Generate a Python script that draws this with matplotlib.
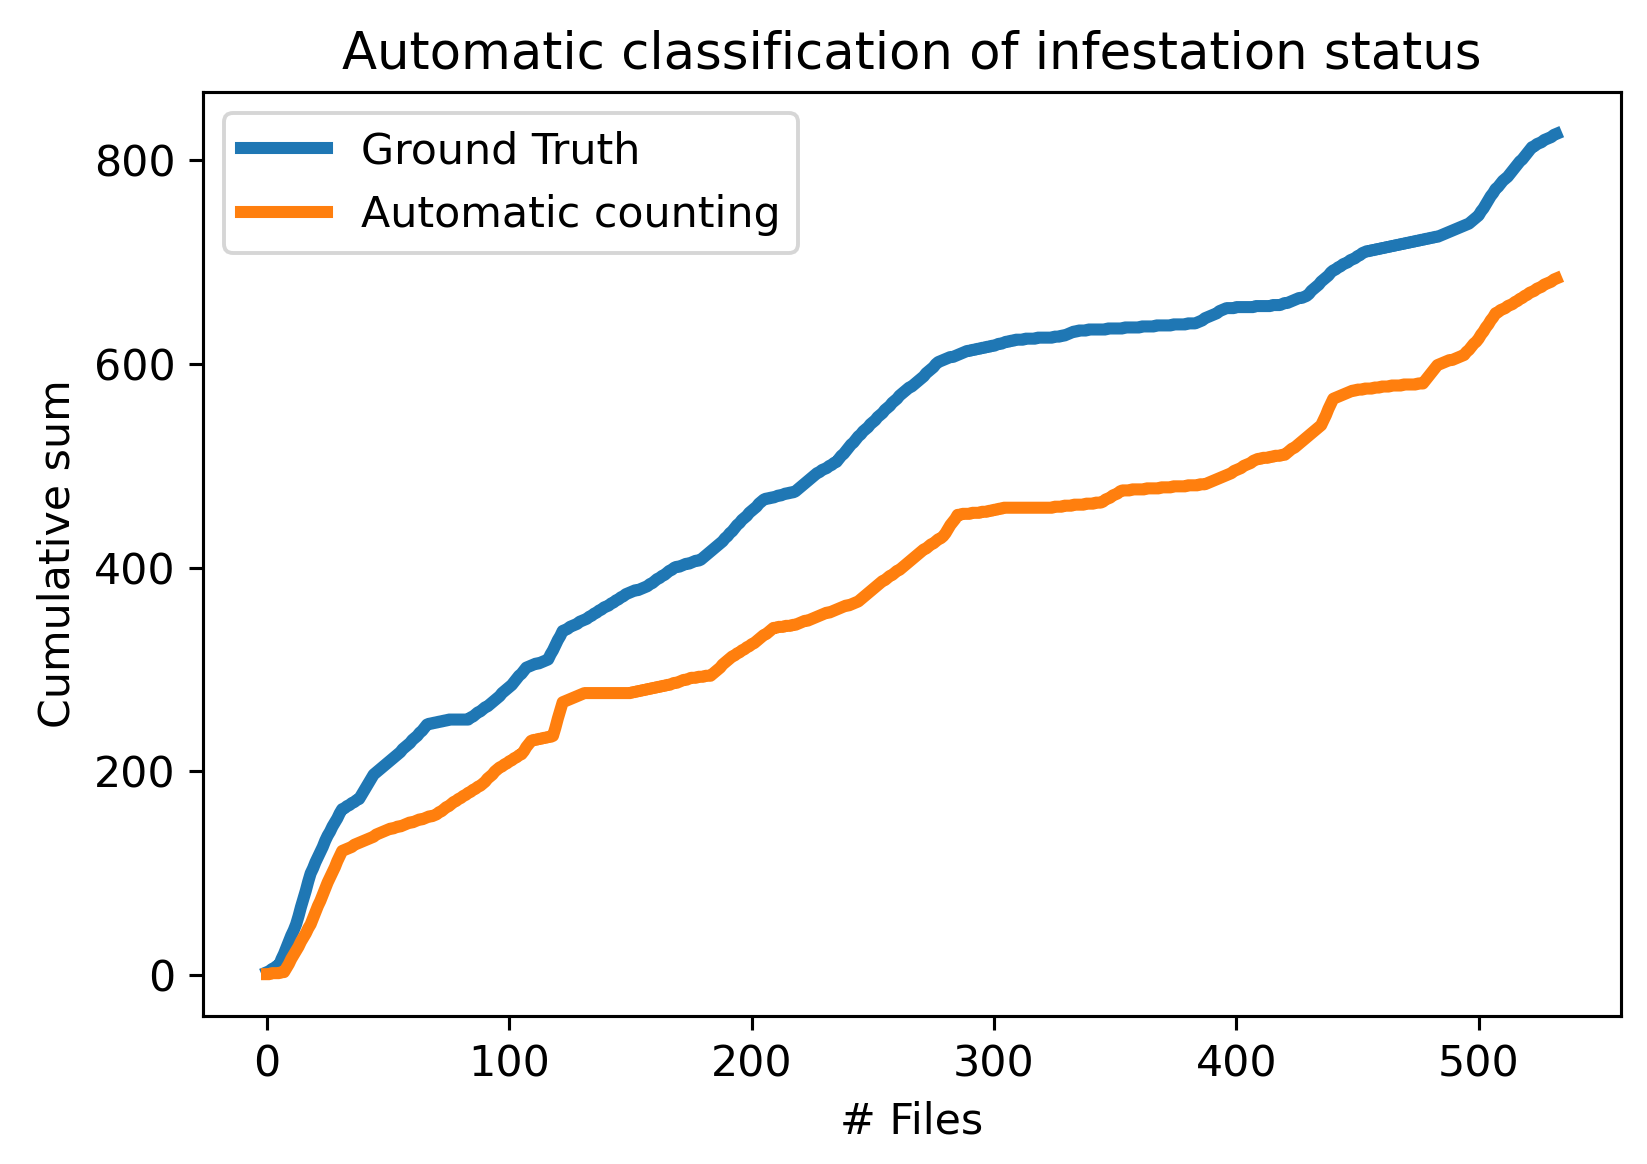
import numpy as np
import matplotlib.pyplot as plt

# values (file index, cumulative sum)
gt_x = [0, 5, 12, 18, 25, 31, 38, 44, 53, 62, 66, 75, 83, 92, 101, 107, 116, 122,
        131, 140, 149, 157, 168, 179, 188, 196, 205, 218, 227, 235, 244, 253, 262,
        270, 277, 288, 301, 309, 327, 335, 357, 383, 396, 418, 429, 440, 453, 466,
        483, 496, 500, 507, 513, 522, 532]
gt_y = [3, 10, 50, 100, 137, 163, 173, 197, 215, 235, 246, 251, 251, 266, 285, 302,
        310, 338, 349, 362, 375, 382, 400, 408, 426, 447, 467, 475, 493, 504, 529,
        550, 571, 586, 602, 612, 619, 624, 627, 633, 636, 640, 655, 658, 667, 692,
        710, 717, 725, 738, 746, 772, 787, 813, 826]

auto_x = [0, 7, 12, 18, 25, 31, 40, 49, 57, 70, 79, 88, 96, 105, 109, 118, 122, 131,
          149, 166, 175, 183, 192, 201, 209, 218, 227, 235, 244, 253, 262, 270, 279,
          285, 296, 305, 322, 344, 353, 366, 387, 396, 409, 420, 427, 435, 440, 448,
          461, 477, 483, 494, 500, 507, 513, 522, 532]
auto_y = [1, 3, 24, 50, 91, 122, 132, 142, 148, 158, 173, 186, 204, 217, 230, 235,
          268, 277, 277, 285, 292, 294, 313, 326, 341, 344, 352, 359, 367, 385, 400,
          416, 431, 452, 455, 459, 459, 464, 476, 478, 482, 491, 507, 511, 524, 540,
          566, 574, 578, 581, 599, 609, 625, 650, 658, 671, 684]

files = np.arange(0, 533)
ground_truth = np.round(np.interp(files, gt_x, gt_y))
automatic = np.round(np.interp(files, auto_x, auto_y))

plt.rcParams["font.size"] = 11

fig = plt.figure(figsize=(1647 / 280, 1164 / 280), dpi=280)
ax = fig.add_axes([0.123, 0.127, 0.861, 0.794])
ax.plot(files, ground_truth, lw=3.1, color="#1f77b4", label="Ground Truth")
ax.plot(files, automatic, lw=3.1, color="#ff7f0e", label="Automatic counting")
ax.set_yticks([0, 200, 400, 600, 800])
ax.set_xlabel("# Files")
ax.set_ylabel("Cumulative sum")
ax.set_title("Automatic classification of infestation status")
ax.legend(loc="upper left")
fig.savefig("out.png", dpi=280)
